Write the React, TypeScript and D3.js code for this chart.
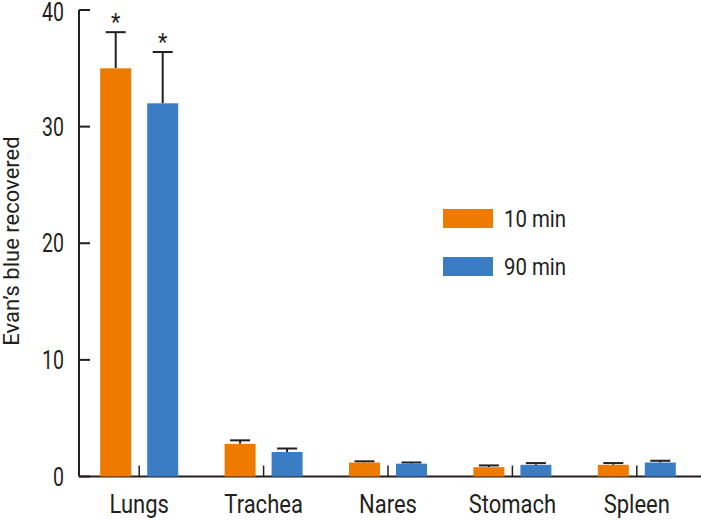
import React from "react";
import * as d3 from "d3";

const categories = ["Lungs", "Trachea", "Nares", "Stomach", "Spleen"];
const series = ["10 min", "90 min"];
const values10 = [35.0, 2.8, 1.2, 0.8, 1.0];
const errors10 = [3.1, 0.3, 0.1, 0.15, 0.15];
const values90 = [32.0, 2.1, 1.1, 1.0, 1.2];
const errors90 = [4.4, 0.3, 0.1, 0.15, 0.15];
const significant10 = [true, false, false, false, false];
const significant90 = [true, false, false, false, false];
const yTicks = [0, 10, 20, 30, 40];

const W = 701;
const H = 520;
const colors = ["#EE7A00", "#3A7DC4"];
const ink = "#231f20";
const font = "Roboto, 'DejaVu Sans', sans-serif";

function CText({ x, y, sx, size, anchor, children }: any) {
  return (
    <text
      transform={`translate(${x}, ${y}) scale(${sx}, 1)`}
      textAnchor={anchor || "start"}
      fontFamily={font}
      fontSize={size}
      fill={ink}
    >
      {children}
    </text>
  );
}

export default function App() {
  const axisX = 79;
  const y = d3.scaleLinear().domain([0, 40]).range([476.5, 10]);
  const x = d3.scaleBand().domain(categories).range([77, 699]).paddingInner(0).paddingOuter(0);
  const barW = 31;
  const gap = 16;
  const vals = [values10, values90];
  const errs = [errors10, errors90];
  const sig = [significant10, significant90];

  return (
    <svg width={W} height={H} style={{ position: "absolute", left: 0, top: 0, background: "#fff" }}>
      {/* y axis */}
      <line x1={axisX} x2={axisX} y1={y(40)} y2={y(0)} stroke={ink} strokeWidth={2} />
      {yTicks.map((t) => (
        <g key={t}>
          <line x1={axisX} x2={axisX + 11} y1={y(t)} y2={y(t)} stroke={ink} strokeWidth={2} />
          <CText x={64} y={Math.max(y(t) + 9, 21)} sx={0.75} size={26} anchor="end">
            {t}
          </CText>
        </g>
      ))}
      {/* x axis */}
      <line x1={axisX} x2={W} y1={y(0)} y2={y(0)} stroke={ink} strokeWidth={2} />
      <text
        transform={`translate(19, 241) rotate(-90)`}
        textAnchor="middle"
        fontFamily={font}
        fontSize={22}
        fill={ink}
      >
        Evan’s blue recovered
      </text>
      {categories.map((c, i) => {
        const cx = (x(c) as number) + x.bandwidth() / 2;
        return (
          <g key={c}>
            <line x1={cx} x2={cx} y1={y(0)} y2={y(0) - 11} stroke={ink} strokeWidth={1.5} />
            {[0, 1].map((s) => {
              const bx = s === 0 ? cx - gap / 2 - barW : cx + gap / 2;
              const bc = bx + barW / 2;
              const v = vals[s][i];
              const e = errs[s][i];
              return (
                <g key={s}>
                  <line x1={bc} x2={bc} y1={y(v)} y2={y(v + e)} stroke={ink} strokeWidth={2} />
                  <line x1={bc - 10} x2={bc + 10} y1={y(v + e)} y2={y(v + e)} stroke={ink} strokeWidth={2} />
                  <rect x={bx} y={y(v)} width={barW} height={y(0) - y(v)} fill={colors[s]} />
                  {sig[s][i] && (
                    <CText x={bc} y={y(v + e) - 2} sx={0.9} size={24} anchor="middle">
                      *
                    </CText>
                  )}
                </g>
              );
            })}
            <CText x={cx} y={513} sx={0.88} size={25} anchor="middle">
              {c}
            </CText>
          </g>
        );
      })}
      {/* legend */}
      {series.map((s, i) => (
        <g key={s}>
          <rect x={443} y={209 + i * 48} width={50} height={19} fill={colors[i]} />
          <CText x={504} y={227 + i * 48} sx={0.85} size={24}>
            {s}
          </CText>
        </g>
      ))}
    </svg>
  );
}
